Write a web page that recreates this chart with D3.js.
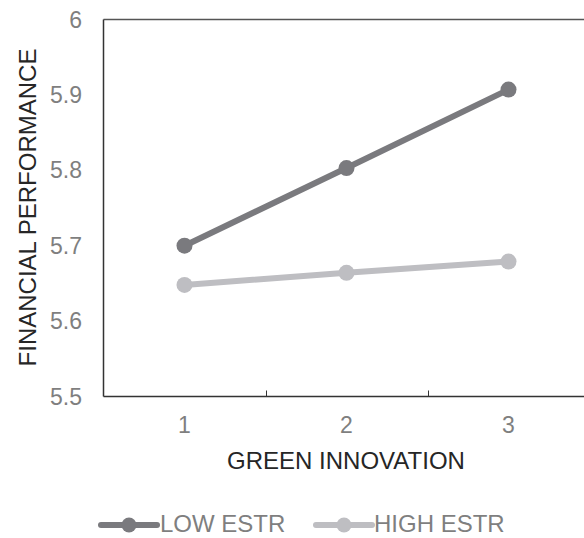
<!DOCTYPE html>
<html><head><meta charset="utf-8">
<script src="https://cdn.jsdelivr.net/npm/d3@7"></script>
<style>body{margin:0;background:#fff}svg{display:block}text{font-family:"Liberation Sans",Arial,sans-serif}</style>
</head><body><svg id="c" width="584" height="538"></svg>
<script>
const categories = ["1", "2", "3"];
const yTicks = [5.5, 5.6, 5.7, 5.8, 5.9, 6];
const lowEstr = [5.700, 5.803, 5.907];
const highEstr = [5.648, 5.664, 5.679];
const seriesNames = ["LOW ESTR", "HIGH ESTR"];
const seriesColors = ["#7a7a7e", "#bebec2"];

const svg = d3.select("#c");
const pL = 103.5, pT = 19.5, pB = 396.5, pR = 589.5;
const x = d3.scaleBand().domain(categories).range([pL, pR]);
const y = d3.scaleLinear().domain([5.5, 6]).range([pB, pT]);

// frame
svg.append("line").attr("x1", pL).attr("x2", pR).attr("y1", pT).attr("y2", pT).attr("stroke", "#555").attr("stroke-width", 1.5);
svg.append("line").attr("x1", pL).attr("x2", pL).attr("y1", pT).attr("y2", pB).attr("stroke", "#333").attr("stroke-width", 1.5);
svg.append("line").attr("x1", pL).attr("x2", pR).attr("y1", pB).attr("y2", pB).attr("stroke", "#333").attr("stroke-width", 1.5);
// category separators
categories.slice(1).forEach(c => {
  const xx = Math.round(x(c)) + 0.5;
  svg.append("line").attr("x1", xx).attr("x2", xx).attr("y1", pB - 6).attr("y2", pB).attr("stroke", "#333").attr("stroke-width", 1);
});
// y tick labels
svg.selectAll(".yl").data(yTicks).enter().append("text")
  .attr("x", 82).attr("y", d => y(d)).attr("dy", "0.35em").attr("text-anchor", "end")
  .attr("font-size", 23).attr("fill", "#7f7f7f").text(d => d3.format("")(d));
// x tick labels
svg.selectAll(".xl").data(categories).enter().append("text")
  .attr("x", d => x(d) + x.bandwidth() / 2).attr("y", 433).attr("text-anchor", "middle")
  .attr("font-size", 23).attr("fill", "#7f7f7f").text(d => d);
// axis titles
svg.append("text").attr("x", 346).attr("y", 469).attr("text-anchor", "middle")
  .attr("font-size", 24).attr("fill", "#262626").text("GREEN INNOVATION");
svg.append("text").attr("transform", "translate(36,207.5) rotate(-90)").attr("text-anchor", "middle")
  .attr("font-size", 24).attr("fill", "#262626").text("FINANCIAL PERFORMANCE");

const data = [lowEstr, highEstr];
const line = d3.line().x((d, i) => x(categories[i]) + x.bandwidth() / 2).y(d => y(d));
[1, 0].forEach(s => {
  svg.append("path").attr("d", line(data[s])).attr("fill", "none").attr("stroke", seriesColors[s]).attr("stroke-width", 6);
  svg.selectAll(".p" + s).data(data[s]).enter().append("circle")
    .attr("cx", (d, i) => x(categories[i]) + x.bandwidth() / 2).attr("cy", d => y(d)).attr("r", 8)
    .attr("fill", seriesColors[s]);
});

// legend
const leg = [{x0: 101, x1: 157, tx: 160}, {x0: 316, x1: 372, tx: 374}];
seriesNames.forEach((n, s) => {
  const g = svg.append("g");
  g.append("line").attr("x1", leg[s].x0).attr("x2", leg[s].x1).attr("y1", 525).attr("y2", 525)
    .attr("stroke", seriesColors[s]).attr("stroke-width", 6).attr("stroke-linecap", "round");
  g.append("circle").attr("cx", (leg[s].x0 + leg[s].x1) / 2).attr("cy", 525).attr("r", 7.5).attr("fill", seriesColors[s]);
  g.append("text").attr("x", leg[s].tx).attr("y", 532).attr("font-size", 24)
    .attr("fill", "#7f7f7f").text(n);
});
</script></body></html>
